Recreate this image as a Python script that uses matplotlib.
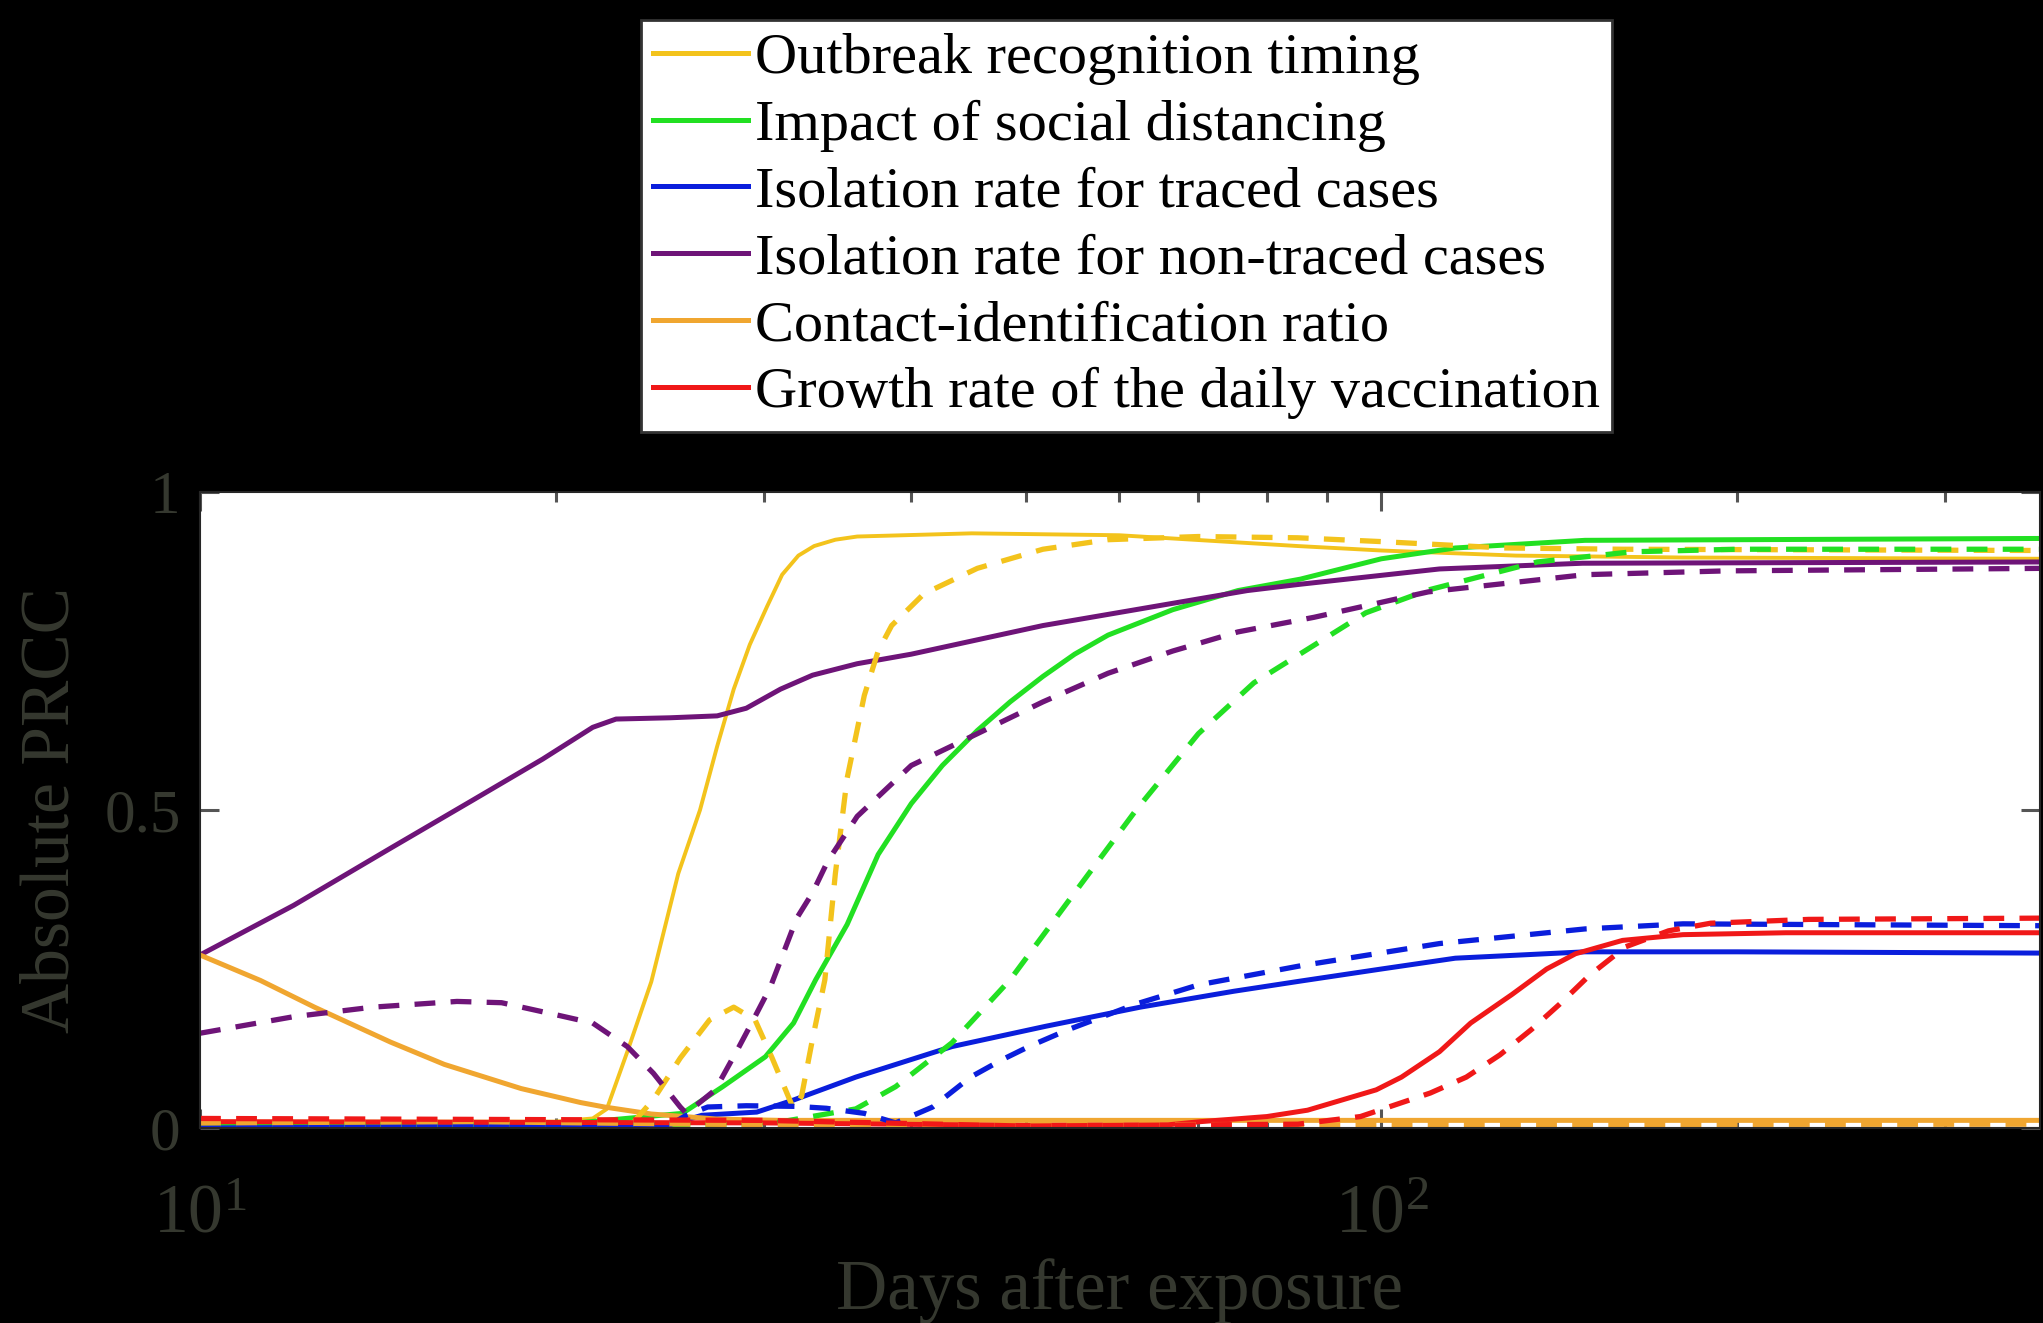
import matplotlib
matplotlib.use("Agg")
import matplotlib.pyplot as plt
from matplotlib.lines import Line2D
from matplotlib.ticker import FixedLocator, NullFormatter, FixedFormatter

plt.rcParams['font.family'] = ['Liberation Serif', 'DejaVu Serif']
plt.rcParams['mathtext.fontset'] = 'custom'
plt.rcParams['mathtext.rm'] = 'Liberation Serif'
plt.rcParams['mathtext.it'] = 'Liberation Serif'
plt.rcParams['lines.scale_dashes'] = False

# ---------------- data ----------------
labels = ["Outbreak recognition timing",
          "Impact of social distancing",
          "Isolation rate for traced cases",
          "Isolation rate for non-traced cases",
          "Contact-identification ratio",
          "Growth rate of the daily vaccination"]
colors = ['#F3C31C', '#22E022', '#0A1EDC', '#6E1478', '#F0A630', '#F01818']

outbreak_solid_x = [10, 15, 20, 21.5, 22.1, 23, 24.1, 25.4, 26.5, 27.4, 28.3, 29.2, 30.2, 31.1, 32.1, 33.1, 34.5, 36, 45, 60, 85, 100, 130, 180, 365]
outbreak_solid_y = [0.01, 0.01, 0.01, 0.015, 0.03, 0.12, 0.23, 0.40, 0.50, 0.60, 0.69, 0.76, 0.82, 0.87, 0.90, 0.915, 0.925, 0.93, 0.935, 0.932, 0.915, 0.908, 0.90, 0.897, 0.895]
outbreak_dash_x = [10, 15, 20, 23.3, 24.2, 25.5, 27, 28.3, 29.5, 30.5, 31.8, 32.3, 33, 33.8, 34.5, 35.3, 36.5, 37.5, 38.5, 41, 45.5, 51.7, 58.7, 70, 85, 100, 127, 160, 365]
outbreak_dash_y = [0.005, 0.005, 0.005, 0.01, 0.045, 0.11, 0.17, 0.19, 0.17, 0.11, 0.03, 0.05, 0.14, 0.233, 0.40, 0.55, 0.68, 0.75, 0.79, 0.84, 0.88, 0.91, 0.925, 0.93, 0.928, 0.922, 0.912, 0.91, 0.908]

social_solid_x = [10, 20, 25.6, 27.7, 30.1, 31.8, 33.2, 35.3, 37.5, 40, 42.5, 45.5, 48.5, 51.7, 55, 58.7, 66.6, 75.6, 85.4, 100, 115.5, 148.7, 365]
social_solid_y = [0.005, 0.005, 0.023, 0.065, 0.112, 0.165, 0.233, 0.32, 0.43, 0.51, 0.57, 0.625, 0.67, 0.71, 0.745, 0.775, 0.815, 0.845, 0.863, 0.895, 0.912, 0.924, 0.927]
social_dash_x = [10, 30, 35.9, 38.8, 43.3, 48.5, 55, 62, 70, 78, 87, 97, 109.6, 135.5, 163, 200, 365]
social_dash_y = [0.005, 0.005, 0.03, 0.065, 0.134, 0.233, 0.37, 0.5, 0.62, 0.70, 0.755, 0.81, 0.846, 0.89, 0.906, 0.91, 0.91]

traced_solid_x = [10, 20, 25, 26.6, 29.6, 31.8, 35.9, 43.3, 52, 62.5, 75, 85.4, 100, 115.5, 148.7, 200, 365]
traced_solid_y = [0.0, 0.003, 0.005, 0.02, 0.025, 0.044, 0.08, 0.128, 0.16, 0.19, 0.215, 0.231, 0.25, 0.267, 0.277, 0.277, 0.275]
traced_dash_x = [10, 25, 25.8, 26.9, 29, 32, 33.9, 36.5, 38.8, 41.7, 44.9, 47.7, 50.3, 54.2, 62, 70, 85.4, 112, 148.7, 180, 365]
traced_dash_y = [0.0, 0.005, 0.02, 0.033, 0.035, 0.034, 0.031, 0.023, 0.008, 0.033, 0.08, 0.107, 0.128, 0.154, 0.195, 0.225, 0.255, 0.29, 0.313, 0.321, 0.318]

nontraced_solid_x = [10, 12, 14.5, 17, 19.5, 21.5, 22.5, 25, 27.4, 29, 31, 33, 36, 40, 51.7, 66.6, 77, 85.4, 112, 148, 365]
nontraced_solid_y = [0.272, 0.35, 0.44, 0.515, 0.58, 0.63, 0.643, 0.645, 0.648, 0.66, 0.69, 0.712, 0.73, 0.745, 0.79, 0.825, 0.845, 0.855, 0.879, 0.888, 0.89]
nontraced_dash_x = [10, 12, 14, 16.5, 18, 19.8, 21.5, 23, 24.2, 25.5, 25.8, 27.3, 28.6, 29.4, 30.4, 32, 33, 34, 36, 40, 45.5, 51.7, 58.7, 66.6, 75.6, 87.7, 109.6, 148.7, 196, 365]
nontraced_dash_y = [0.149, 0.175, 0.19, 0.199, 0.197, 0.18, 0.165, 0.128, 0.086, 0.033, 0.023, 0.06, 0.128, 0.17, 0.222, 0.33, 0.37, 0.42, 0.49, 0.57, 0.62, 0.67, 0.715, 0.75, 0.78, 0.803, 0.843, 0.87, 0.876, 0.88]

contact_solid_x = [10, 11.25, 12.5, 14.5, 16.1, 18.7, 21, 22, 24.1, 27.4, 31, 365]
contact_solid_y = [0.272, 0.232, 0.19, 0.135, 0.1, 0.062, 0.04, 0.033, 0.022, 0.014, 0.012, 0.012]
contact_dash_x = [10, 17, 30, 365]
contact_dash_y = [0.008, 0.01, 0.005, 0.006]

vacc_solid_x = [10, 30, 50, 66, 70.3, 80, 86.6, 99, 104, 112, 119, 129, 138, 146, 160, 180, 220, 365]
vacc_solid_y = [0.01, 0.008, 0.004, 0.005, 0.01, 0.018, 0.028, 0.06, 0.08, 0.12, 0.165, 0.21, 0.25, 0.274, 0.295, 0.304, 0.307, 0.307]
vacc_dash_x = [10, 30, 50, 85, 96, 110, 118, 126, 134, 141.6, 150, 161, 175, 190, 230, 365]
vacc_dash_y = [0.015, 0.012, 0.003, 0.006, 0.018, 0.055, 0.08, 0.115, 0.155, 0.195, 0.24, 0.285, 0.31, 0.322, 0.328, 0.33]

solid_series = [(outbreak_solid_x, outbreak_solid_y), (social_solid_x, social_solid_y),
                (traced_solid_x, traced_solid_y), (nontraced_solid_x, nontraced_solid_y),
                (contact_solid_x, contact_solid_y), (vacc_solid_x, vacc_solid_y)]
dash_series = [(outbreak_dash_x, outbreak_dash_y), (social_dash_x, social_dash_y),
               (traced_dash_x, traced_dash_y), (nontraced_dash_x, nontraced_dash_y),
               (contact_dash_x, contact_dash_y), (vacc_dash_x, vacc_dash_y)]

x_major = [10, 100]
x_major_labels = [r'$\mathregular{10^{1}}$', r'$\mathregular{10^{2}}$']
x_minor = [20, 30, 40, 50, 60, 70, 80, 90, 200, 300]
y_ticks = [0, 0.5, 1]
y_tick_labels = ['0', '0.5', '1']

# ---------------- figure ----------------
W, H = 2043, 1323
fig = plt.figure(figsize=(W / 100, H / 100), dpi=100, facecolor='black')
ax = fig.add_axes([200 / W, (H - 1128) / H, 1840 / W, 636 / H])
ax.set_facecolor('white')
ax.set_xscale('log')

solid_lw = [2.8, 3.6, 3.6, 3.6, 3.6, 3.6]
for (xs, ys), c, lw in zip(solid_series, colors, solid_lw):
    ax.plot(xs, ys, color=c, lw=lw, solid_capstyle='butt', solid_joinstyle='round')
for (xs, ys), c in zip(dash_series, colors):
    ax.plot(xs, ys, color=c, lw=3.8, dashes=(15, 11), dash_capstyle='butt',
            dash_joinstyle='round')

ax.set_xlim(10, 361)
ax.set_ylim(0, 1)

ax.xaxis.set_major_locator(FixedLocator(x_major))
ax.xaxis.set_major_formatter(FixedFormatter(x_major_labels))
ax.xaxis.set_minor_locator(FixedLocator(x_minor))
ax.xaxis.set_minor_formatter(NullFormatter())
ax.yaxis.set_major_locator(FixedLocator(y_ticks))
ax.yaxis.set_major_formatter(FixedFormatter(y_tick_labels))

txt_col = '#35382f'
ax.tick_params(axis='both', which='major', direction='in', length=14, width=2.2,
               color='#555555', top=True, right=True, labelsize=44, labelcolor=txt_col)
ax.tick_params(axis='x', which='minor', direction='in', length=7, width=2.2,
               color='#555555', top=True, bottom=True)
ax.tick_params(axis='x', which='major', pad=40, labelsize=50)
ax.tick_params(axis='y', which='major', pad=14)
for s in ax.spines.values():
    s.set_color('#262626')
    s.set_linewidth(1.5)

ax.set_xlabel('Days after exposure', fontsize=51, color=txt_col)
ax.xaxis.set_label_coords(0.5, -0.285)
ax.xaxis.label.set_verticalalignment('baseline')
ax.set_ylabel('Absolute PRCC', fontsize=50, color=txt_col)
ax.yaxis.set_label_coords(-0.0804, 0.5)
ax.yaxis.label.set_verticalalignment('center')

handles = [Line2D([0], [0], color=c, lw=3.6) for c in colors]
leg = ax.legend(handles, labels, loc='upper left',
                bbox_to_anchor=(641 / W, 1 - 20 / H), bbox_transform=fig.transFigure,
                fontsize=42, frameon=True, fancybox=False, framealpha=1,
                facecolor='white', edgecolor='#333333',
                handlelength=1.62, handletextpad=0.12, borderpad=0.21,
                labelspacing=0.24, borderaxespad=0)
leg.get_frame().set_linewidth(2)

fig.savefig('out.png', dpi=100, facecolor='black')
